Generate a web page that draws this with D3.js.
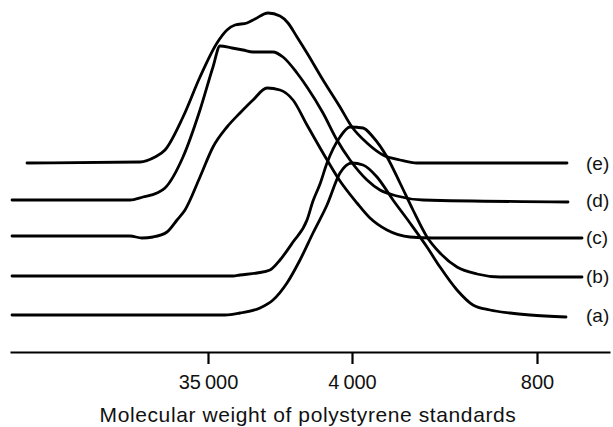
<!DOCTYPE html>
<html lang="en">
<head>
<meta charset="UTF-8" />
<title>GPC traces</title>
<script src="https://d3js.org/d3.v7.min.js"></script>
<style>
  body { margin: 0; background: #fff; }
  text { font-family: "Liberation Sans", Arial, sans-serif; fill: #111; }
</style>
</head>
<body>
<svg class="gpc"></svg>
<script>
const width = 613
const height = 427

// trace labels, bottom to top, and the baseline each trace is stacked on
const traceLabels = ['(a)', '(b)', '(c)', '(d)', '(e)']
const offsets = [37, 76, 115, 152, 189]

// elution volume (ml) vs detector response above the trace's own baseline
const volA = [10.1, 20.75, 21.5, 22.5, 23.15, 23.85, 24.5, 25.15, 25.85, 26.5, 27.1, 27.65, 28.35, 29.15, 30.0, 30.85, 31.5, 32.35, 33.15, 34.0, 35.0, 36.0, 37.8]
const respA = [0, 0, 2, 7, 15, 32, 55, 82, 110, 142, 152, 150, 138, 115, 92, 68, 48, 25, 10, 5, 2, 0, -2]

const volB = [10.1, 21.15, 21.5, 22.35, 23.0, 23.5, 24.15, 24.85, 25.15, 25.5, 25.85, 26.5, 27.0, 27.65, 28.15, 28.85, 29.5, 30.15, 30.85, 31.5, 32.35, 33.35, 34.5, 38.6]
const respB = [0, 0, 1, 3, 6, 16, 34, 56, 75, 92, 113, 139, 149, 148, 139, 119, 93, 66, 39, 23, 9, 2, -1, -1]

const volC = [10.1, 16.0, 16.6, 17.15, 17.85, 18.35, 18.75, 19.5, 20.15, 20.85, 21.5, 22.15, 22.85, 23.5, 24.15, 24.85, 25.65, 26.5, 27.35, 28.0, 28.85, 30.0, 31.15, 38.6]
const respC = [1, 1, -1, 0, 5, 17, 27, 60, 90, 110, 124, 137, 149, 147, 137, 112, 84, 56, 34, 19, 7, 0, -1, -1]

const volD = [10.1, 16.0, 16.65, 17.35, 17.75, 18.65, 19.5, 20.15, 20.5, 21.1, 21.65, 22.15, 23.15, 23.65, 24.35, 24.85, 25.65, 26.35, 27.0, 27.85, 28.5, 29.35, 30.65, 37.9]
const respD = [0, 0, 3, 7, 12, 43, 90, 133, 154, 152, 150, 148, 148, 143, 127, 113, 87, 60, 40, 20, 10, 4, 0, -2]

const volE = [10.85, 16.5, 17.25, 17.75, 18.65, 19.5, 20.35, 20.85, 21.25, 21.85, 22.25, 22.9, 23.5, 23.9, 24.35, 24.85, 25.65, 26.5, 27.1, 27.85, 28.65, 29.5, 30.35, 37.85]
const respE = [0, 1, 6, 13, 46, 86, 120, 133, 138, 140, 144, 150, 147, 140, 126, 110, 83, 56, 36, 20, 8, 3, 0, 0]

// molecular weight calibration marks on the volume axis
const tickVolumes = [19.9, 27.1, 36.35]
const tickLabels = ['35\u2009000', '4\u2009000', '800']

const traces = [[volA, respA], [volB, respB], [volC, respC], [volD, respD], [volE, respE]]
  .map(([v, r], i) => v.map((d, j) => ({ vol: d, resp: r[j] + offsets[i] })))

const x = d3.scaleLinear().domain([10, 40]).range([10, 610])
const y = d3.scaleLinear().domain([0, 352]).range([352, 0])

const svg = d3.select('svg.gpc')
  .attr('width', width)
  .attr('height', height)

const line = d3.line()
  .x(d => x(d.vol))
  .y(d => y(d.resp))
  .curve(d3.curveMonotoneX)

svg.append('g')
  .selectAll('path')
  .data(traces)
  .enter()
  .append('path')
  .attr('d', line)
  .attr('fill', 'none')
  .attr('stroke', '#000')
  .attr('stroke-width', 2.8)
  .attr('stroke-linejoin', 'round')
  .attr('stroke-linecap', 'round')

svg.append('g')
  .selectAll('text')
  .data(traceLabels)
  .enter()
  .append('text')
  .attr('x', 586)
  .attr('y', (d, i) => y(offsets[i]))
  .attr('dy', '0.36em')
  .style('font-size', '19px')
  .text(d => d)

const axis = d3.axisBottom(x)
  .tickValues(tickVolumes)
  .tickFormat((d, i) => tickLabels[i])
  .tickSize(12)
  .tickSizeOuter(0)
  .tickPadding(11)

const ax = svg.append('g')
  .attr('transform', `translate(0, ${y(0)})`)
  .call(axis)
ax.select('.domain').attr('stroke', '#000').attr('stroke-width', 2.2)
ax.selectAll('.tick line').attr('stroke', '#000').attr('stroke-width', 2.2)
ax.selectAll('.tick text')
  .attr('fill', '#111')
  .style('font-family', '"Liberation Sans", Arial, sans-serif')
  .style('font-size', '20px')

svg.append('text')
  .attr('x', 308)
  .attr('y', 422)
  .attr('text-anchor', 'middle')
  .style('font-size', '21px')
  .style('letter-spacing', '0.6px')
  .text('Molecular weight of polystyrene standards')
</script>
</body>
</html>
